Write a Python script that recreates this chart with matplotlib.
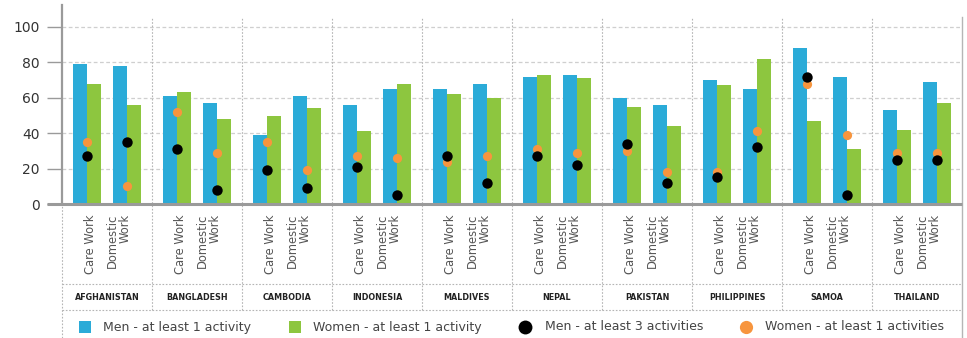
import matplotlib
matplotlib.use("Agg")
import matplotlib.pyplot as plt
from matplotlib.lines import Line2D
import numpy as np

countries = ['AFGHANISTAN', 'BANGLADESH', 'CAMBODIA', 'INDONESIA', 'MALDIVES',
             'NEPAL', 'PAKISTAN', 'PHILIPPINES', 'SAMOA', 'THAILAND']
work_types = ['Care Work', 'Domestic\nWork']

# values per country: [care, domestic]
men_1 = [79, 78, 61, 57, 39, 61, 56, 65, 65, 68, 72, 73, 60, 56, 70, 65, 88, 72, 53, 69]
women_1 = [68, 56, 63, 48, 50, 54, 41, 68, 62, 60, 73, 71, 55, 44, 67, 82, 47, 31, 42, 57]
men_3 = [27, 35, 31, 8, 19, 9, 21, 5, 27, 12, 27, 22, 34, 12, 15, 32, 72, 5, 25, 25]
women_1_act = [35, 10, 52, 29, 35, 19, 27, 26, 24, 27, 31, 29, 30, 18, 18, 41, 68, 39, 29, 29]

series_labels = ['Men - at least 1 activity', 'Women - at least 1 activity',
                 'Men - at least 3 activities', 'Women - at least 1 activities']
yticks = [0, 20, 40, 60, 80, 100]

BLUE = '#2BABD8'
GREEN = '#8DC63F'
ORANGE = '#F7953E'
BLACK = '#000000'
GRID = '#cfcfcf'
SPINE = '#9a9a9a'

W, H = 967, 338
fig = plt.figure(figsize=(W / 100, H / 100), dpi=100)
ax_l, ax_r, ax_top, ax_bot = 62, 962, 5, 204
ax = fig.add_axes([ax_l / W, (H - ax_bot) / H, (ax_r - ax_l) / W, (ax_bot - ax_top) / H])

ppu = 1.77  # px per unit
ymax = (ax_bot - ax_top) / ppu
ax.set_xlim(0, len(countries))
ax.set_ylim(0, ymax)

n = len(countries)
offsets = [25 / 90, 65 / 90]
bw = 14 / 90
centers = np.array([i + offsets[j] for i in range(n) for j in range(2)])

ax.bar(centers - bw / 2, men_1, width=bw, color=BLUE, zorder=3, linewidth=0)
ax.bar(centers + bw / 2, women_1, width=bw, color=GREEN, zorder=3, linewidth=0)
ax.scatter(centers, women_1_act, s=44, color=ORANGE, zorder=4, linewidths=0)
ax.scatter(centers, men_3, s=56, color=BLACK, zorder=5, linewidths=0)

# grid
for yv in yticks[1:]:
    ax.axhline(yv, color=GRID, lw=0.9, ls=(0, (3, 2)), zorder=1)

ax.set_yticks(yticks)
ax.set_yticklabels([str(t) for t in yticks])
ax.tick_params(axis='y', length=11, width=1, color=SPINE, pad=5, labelsize=10,
               labelcolor='#333333')
ax.set_xticks([])
for s in ['top', 'right', 'bottom']:
    ax.spines[s].set_visible(False)
ax.spines['left'].set_color(SPINE)
ax.spines['left'].set_linewidth(1.6)

# bottom axis line extended left
ax.plot([-15 / 900, 1], [0, 0], transform=ax.transAxes, color=SPINE, lw=2.2,
        clip_on=False, zorder=6, solid_capstyle='butt')

ah = ax_bot - ax_top
def fr(ypx):
    return (ax_bot - ypx) / ah

# separators
for i in range(1, n):
    ax.axvline(i, ymin=fr(310), ymax=fr(17), color='#b5b5b5', lw=0.8,
               ls=(0, (1.5, 1.5)), clip_on=False, zorder=2)
ax.axvline(n, ymin=fr(H), ymax=fr(17), color='#b5b5b5', lw=1.0,
           clip_on=False, zorder=2)
ax.axvline(0, ymin=fr(H), ymax=fr(ax_bot), color='#b5b5b5', lw=0.8,
           ls=(0, (1.5, 1.5)), clip_on=False, zorder=2)

# horizontal dotted lines in label area
for ypx in (284, 310):
    ax.plot([0, 1], [fr(ypx), fr(ypx)], transform=ax.transAxes, color='#b5b5b5',
            lw=0.8, ls=(0, (1.5, 1.5)), clip_on=False)

xt = ax.get_xaxis_transform()
for i in range(n):
    for j in range(2):
        c = i + offsets[j]
        dx = 3 / 90 if j == 0 else -8 / 90
        ax.text(c + dx, fr(214), work_types[j], transform=xt, rotation=90,
                ha='center', va='top', multialignment='right', fontsize=8.3,
                color='#555555', linespacing=0.95)
    ax.text(i + 0.5, fr(298), countries[i], transform=xt, ha='center', va='center',
            fontsize=5.8, fontweight='bold', color='#222222')

# legend (manual)
ly = (H - 327) / H
items = [(85, 103, 's', BLUE, 9), (295, 313, 's', GREEN, 9), (525, 545, 'o', BLACK, 10),
         (746, 765, 'o', ORANGE, 9.5)]
for (mx, tx, mk, col, ms), lab in zip(items, series_labels):
    fig.add_artist(Line2D([mx / W], [ly], marker=mk, color=col, markersize=ms,
                          linestyle='none', markeredgewidth=0))
    fig.text(tx / W, ly, lab, ha='left', va='center', fontsize=9, color='#444444')

fig.savefig('out.png', dpi=100)
